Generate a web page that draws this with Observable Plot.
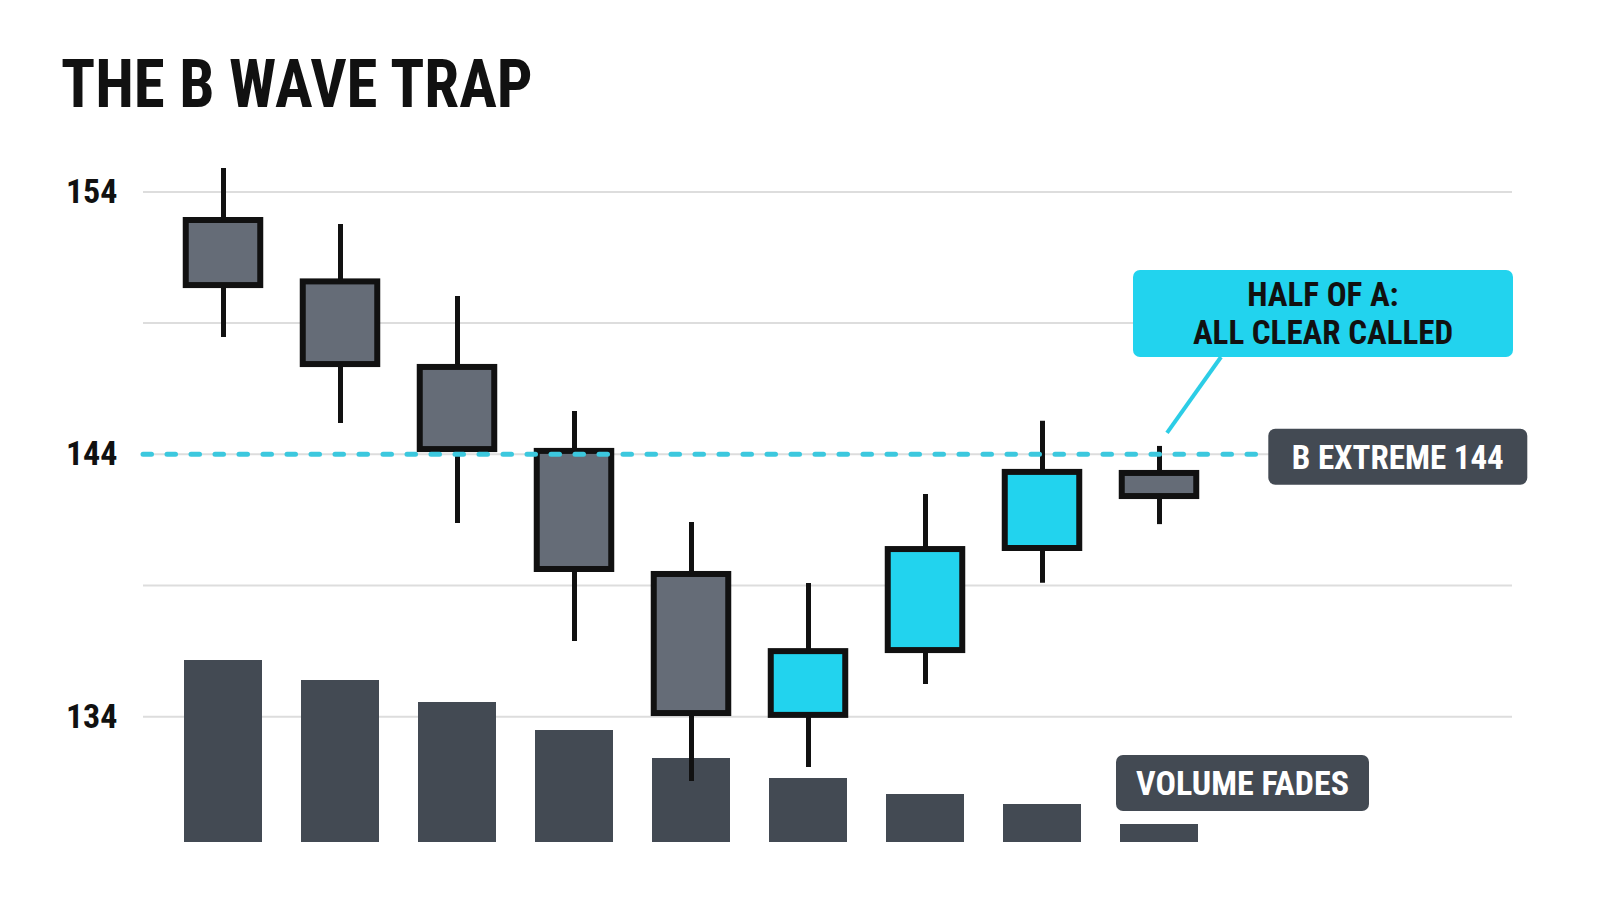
<!DOCTYPE html>
<html><head><meta charset="utf-8">
<script src="https://cdn.jsdelivr.net/npm/d3@7"></script>
<script src="https://cdn.jsdelivr.net/npm/@observablehq/plot@0.6"></script>
<style>
html,body{margin:0;padding:0;background:#fff;}
#page{position:relative;width:1600px;height:914px;overflow:hidden;background:#fff;font-family:"Roboto Condensed","Roboto",sans-serif;}
#title{position:absolute;left:61px;top:51px;margin:0;font-size:67px;line-height:1;font-weight:700;color:#111;white-space:nowrap;transform:scaleX(0.94);transform-origin:0 0;}
#chart{position:absolute;left:0;top:140px;width:1600px;height:774px;}
#chart svg{position:absolute;left:0;top:0;}
</style></head><body>
<div id="page"><h1 id="title">THE B WAVE TRAP</h1><div id="chart"></div></div>
<script>
// ---- data ----
const days   = ["1","2","3","4","5","6","7","8","9"];
const open   = [152.91, 150.57, 147.31, 144.11, 139.42, 134.05, 136.52, 140.41, 143.27];
const high   = [154.89, 152.76, 150.01, 145.63, 141.40, 139.08, 142.47, 145.26, 144.30];
const low    = [148.45, 145.17, 141.36, 136.87, 131.53, 132.06, 135.23, 139.09, 141.32];
const close  = [150.43, 147.42, 144.18, 139.61, 134.12, 136.48, 140.37, 143.31, 142.39];
const volume = [9.1, 8.1, 7.0, 5.6, 4.2, 3.2, 2.4, 1.9, 0.9];
const priceTicks = [154, 144, 134];
const gridLevels = [154, 149, 144, 139, 134];
const bExtreme = 144;
const calloutLines = ["HALF OF A:", "ALL CLEAR CALLED"];
const extremeLabel = "B EXTREME 144";
const volumeLabel = "VOLUME FADES";

const CYAN = "#22d3ee", GRAY = "#656c77", DARK = "#434a53", INK = "#111111";
const FONT = "'Roboto Condensed', Roboto, sans-serif";

const candles = days.map((d, i) => ({day: d, open: open[i], high: high[i], low: low[i], close: close[i], volume: volume[i], up: close[i] > open[i]}));

const W = 1600, H = 774;
const common = {
  width: W, height: H, marginLeft: 143, marginRight: 88, marginTop: 0, marginBottom: 0,
  style: {background: "transparent", fontFamily: FONT, overflow: "visible"}
};
const xOpt = {type: "band", domain: days, range: [145.2, 1237.3], padding: 0.33, axis: null};
const yPrice = {domain: [134, 154], range: [576.2, 51.4]};

const chart = document.getElementById("chart");

// layer 1: grid + price axis
const gridPlot = Plot.plot({
  ...common, x: xOpt, y: {...yPrice},
  marks: [
    Plot.ruleY(gridLevels, {stroke: "#dddddd", strokeWidth: 2}),
    Plot.axisY(priceTicks, {tickSize: 0, tickPadding: 26, fontSize: 34, fontWeight: 700, fill: INK, label: null})
  ]
});
chart.appendChild(gridPlot);

// layer 2: volume bars
const volPlot = Plot.plot({
  ...common, x: xOpt, y: {domain: [0, 10], range: [702, 502], axis: null},
  marks: [Plot.barY(candles, {x: "day", y: "volume", fill: DARK})]
});
chart.appendChild(volPlot);

// layer 3: candles + B extreme line
const candlePlot = Plot.plot({
  ...common, x: xOpt, y: {...yPrice, axis: null},
  marks: [
    Plot.ruleX(candles, {x: "day", y1: "low", y2: "high", stroke: INK, strokeWidth: 5}),
    Plot.barY(candles.filter(d => !d.up), {x: "day", y1: "open", y2: "close", fill: GRAY, stroke: INK, strokeWidth: 6, insetLeft: 1.75, insetRight: 1.75}),
    Plot.barY(candles.filter(d => d.up), {x: "day", y1: "open", y2: "close", fill: CYAN, stroke: INK, strokeWidth: 6, insetLeft: 1.75, insetRight: 1.75}),
    Plot.ruleY([bExtreme], {stroke: "#3cc8de", strokeWidth: 5, strokeDasharray: "8.5 15.5", strokeLinecap: "round", insetRight: 244})
  ]
});
chart.appendChild(candlePlot);

// ---- annotations positioned from the scales ----
const xs = candlePlot.scale("x"), ys = candlePlot.scale("y"), vs = volPlot.scale("y");
const svg = d3.select(candlePlot);
const frameRight = W - common.marginRight;
const last = candles[candles.length - 1];
const lastCx = xs.apply(last.day) + xs.bandwidth / 2;

function box(x, y, w, h, fill, color, lines, fs, lh) {
  const g = svg.append("g");
  g.append("rect").attr("x", x).attr("y", y).attr("width", w).attr("height", h)
    .attr("rx", 7).attr("fill", fill);
  const cy = y + h / 2;
  lines.forEach((t, i) => {
    g.append("text").attr("x", x + w / 2)
      .attr("y", cy + (i - (lines.length - 1) / 2) * lh + 0.355 * fs)
      .attr("text-anchor", "middle").attr("font-family", FONT).attr("font-weight", 700)
      .attr("font-size", fs).attr("fill", color).text(t);
  });
}

// B extreme label
const by = ys.apply(bExtreme);
box(xs.range[1] + 31, by + 3 - 28, 259, 56, DARK, "#ffffff", [extremeLabel], 33, 0);

// callout + leader
const cTop = 130, cH = 87, cLeft = 1133;
svg.append("line")
  .attr("x1", 1221).attr("y1", cTop + cH)
  .attr("x2", lastCx + 8).attr("y2", ys.apply(last.high) - 13)
  .attr("stroke", "#2ccde6").attr("stroke-width", 4);
box(cLeft, cTop, frameRight + 1 - cLeft, cH, CYAN, INK, calloutLines, 33, 37.5);

// volume label
const vTop = vs.apply(last.volume);
box(xs.apply(last.day) - 4, vTop - 69, 253, 56, DARK, "#ffffff", [volumeLabel], 34, 0);
</script>
</body></html>
